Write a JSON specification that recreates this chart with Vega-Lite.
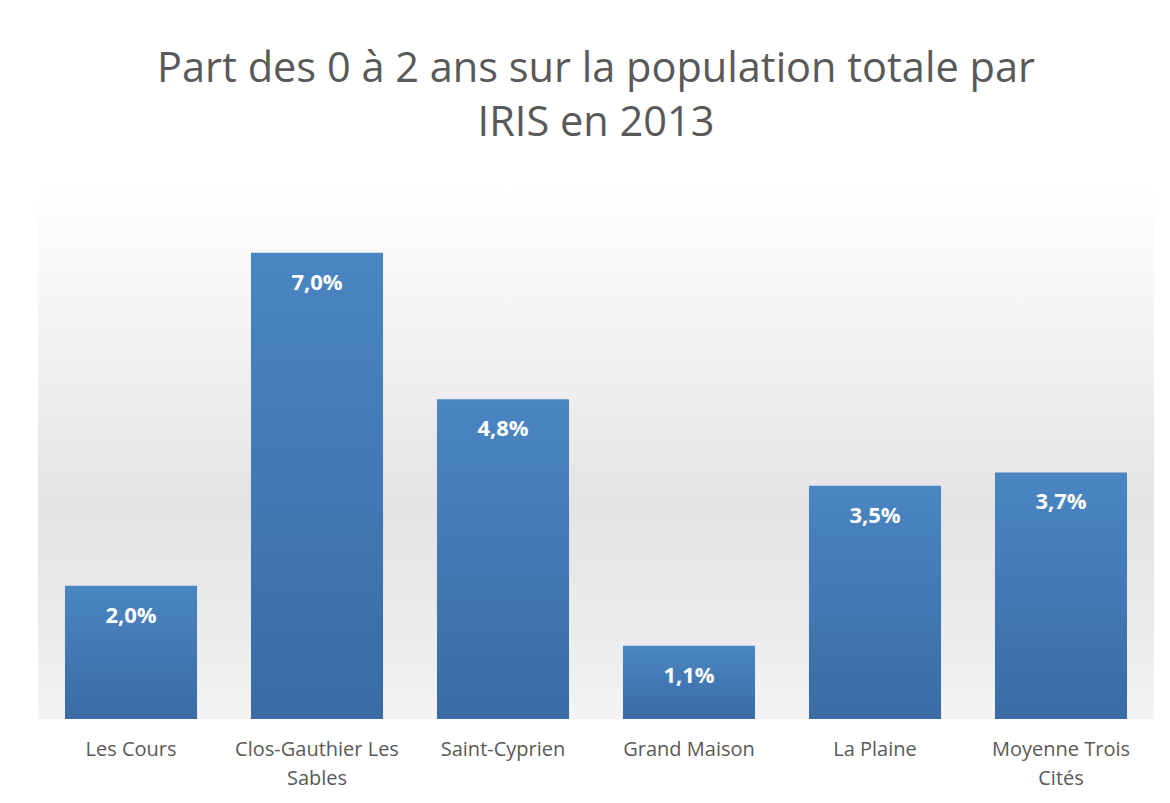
{
  "$schema": "https://vega.github.io/schema/vega-lite/v6.json",
  "width": 1116,
  "height": 533,
  "autosize": {"type": "none"},
  "padding": {"left": 38, "top": 186, "right": 16, "bottom": 84},
  "background": "#ffffff",
  "title": {
    "text": ["Part des 0 à 2 ans sur la population totale par", "IRIS en 2013"],
    "fontSize": 41.5,
    "font": "Open Sans",
    "fontWeight": "normal",
    "color": "#595959",
    "lineHeight": 54,
    "anchor": "middle",
    "offset": 42
  },
  "data": {
    "values": [
      {"iris": "Les Cours", "part": 0.020},
      {"iris": "Clos-Gauthier Les Sables", "part": 0.070},
      {"iris": "Saint-Cyprien", "part": 0.048},
      {"iris": "Grand Maison", "part": 0.011},
      {"iris": "La Plaine", "part": 0.035},
      {"iris": "Moyenne Trois Cités", "part": 0.037}
    ]
  },
  "encoding": {
    "x": {
      "field": "iris",
      "type": "nominal",
      "sort": null,
      "title": null,
      "scale": {"paddingInner": 0.29, "paddingOuter": 0.145},
      "axis": {
        "labelAngle": 0,
        "domain": false,
        "ticks": false,
        "labelFontSize": 20,
        "labelFont": "Open Sans",
        "labelColor": "#595959",
        "labelPadding": 20,
        "labelLineHeight": 29,
        "labelExpr": "datum.label == 'Clos-Gauthier Les Sables' ? ['Clos-Gauthier Les', 'Sables'] : datum.label == 'Moyenne Trois Cités' ? ['Moyenne Trois', 'Cités'] : datum.label"
      }
    },
    "y": {
      "field": "part",
      "type": "quantitative",
      "title": null,
      "scale": {"domain": [0, 0.08], "nice": false},
      "axis": null
    }
  },
  "layer": [
    {
      "mark": {
        "type": "bar",
        "color": {
          "gradient": "linear",
          "x1": 0, "y1": 0, "x2": 0, "y2": 1,
          "stops": [
            {"offset": 0, "color": "#4a86c2"},
            {"offset": 1, "color": "#3a6ba5"}
          ]
        }
      }
    },
    {
      "mark": {
        "type": "text",
        "baseline": "middle",
        "dy": 30,
        "fontSize": 22,
        "fontWeight": "bold",
        "font": "Open Sans",
        "color": "#ffffff"
      },
      "encoding": {
        "text": {"field": "part", "type": "quantitative", "format": ".1%"}
      }
    }
  ],
  "config": {
    "locale": {
      "number": {"decimal": ",", "thousands": " ", "grouping": [3], "currency": ["", " €"]}
    },
    "view": {
      "stroke": null,
      "fill": {
        "gradient": "linear",
        "x1": 0, "y1": 0, "x2": 0, "y2": 1,
        "stops": [
          {"offset": 0, "color": "#ffffff"},
          {"offset": 0.6, "color": "#e4e4e4"},
          {"offset": 0.85, "color": "#ececec"},
          {"offset": 1, "color": "#f4f4f4"}
        ]
      }
    }
  }
}
